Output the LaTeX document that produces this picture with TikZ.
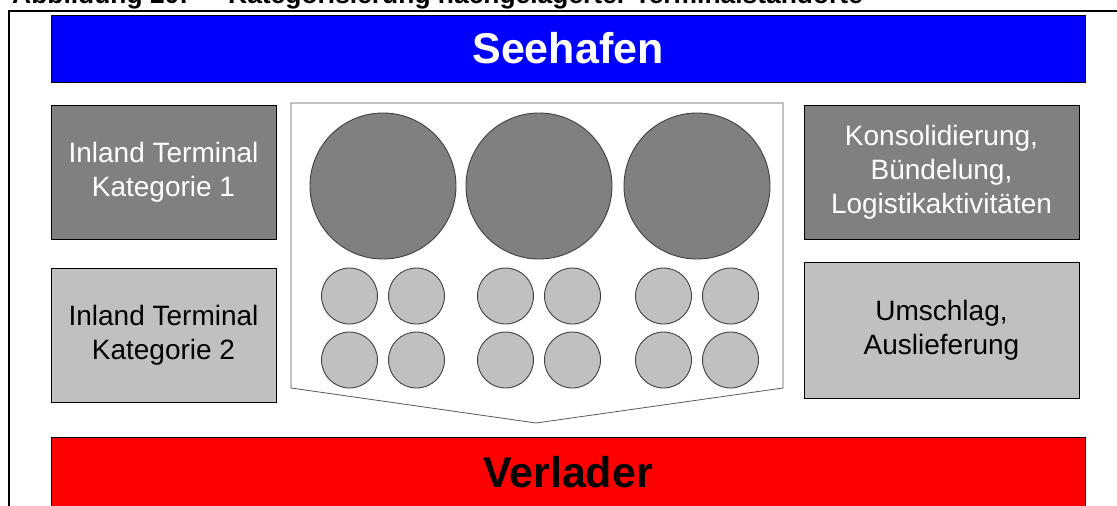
\documentclass[tikz,border=0pt]{standalone}
\usepackage{fontspec}
\setmainfont{Liberation Sans}
\usetikzlibrary{positioning}
\definecolor{dunkelgrau}{HTML}{808080}
\definecolor{hellgrau}{HTML}{C0C0C0}

\begin{document}
\begin{tikzpicture}[x=1pt, y=-1pt,
        kasten/.style={draw=black, line width=0.8pt, inner sep=0pt, outer sep=0pt, align=center,
            font=\fontsize{28}{34}\selectfont},
        dunkel/.style={kasten, fill=dunkelgrau, text=white},
        hell/.style={kasten, fill=hellgrau, text=black},
        balken/.style={draw=black, line width=0.8pt, inner sep=0pt, outer sep=0pt,
            minimum width=1034pt, font=\fontsize{43}{50}\selectfont\bfseries},
        gross/.style={draw=black!75, line width=0.9pt, fill=dunkelgrau},
        klein/.style={draw=black!75, line width=0.9pt, fill=hellgrau}]

        % ===============================
        % Rahmen und Bildgrenzen
        % ===============================
        \useasboundingbox (0,0) rectangle (1117,506);
        \clip (0,0) rectangle (1117,506);

        \draw[line width=2pt] (9,506) -- (9,11) -- (1120,11);

        % Abbildungstitel (oben abgeschnitten)
        \node[anchor=base west, inner sep=0pt, font=\fontsize{26.4}{30}\selectfont\bfseries]
            (titelnr) at (12,4) {Abbildung 20:};
        \node[anchor=base west, inner sep=0pt, font=\fontsize{26.4}{30}\selectfont\bfseries]
            (titel) at (228,4) {Kategorisierung nachgelagerter Terminalstandorte};

        % ===============================
        % Seehafen / Verlader
        % ===============================
        \node[balken, fill=blue, text=white, minimum height=67pt] (seehafen) at (568,48.5) {Seehafen};
        \node[balken, fill=red, text=black, minimum height=70pt] (verlader) at (568,472) {Verlader};

        % ===============================
        % Inland Terminals (links)
        % ===============================
        \node[dunkel, minimum width=225pt, minimum height=134pt] (kat1) at (163.5,172)
            {Inland Terminal\\Kategorie 1};
        \node[hell, minimum width=225pt, minimum height=134pt] (kat2) at (163.5,335)
            {Inland Terminal\\Kategorie 2};

        % ===============================
        % Funktionen (rechts)
        % ===============================
        \node[dunkel, minimum width=275pt, minimum height=134pt] (logistik) at (941.5,172)
            {Konsolidierung,\\Bündelung,\\Logistikaktivitäten};
        \node[hell, minimum width=275pt, minimum height=136pt] (umschlag) at (941.5,330)
            {Umschlag,\\Auslieferung};

        % ===============================
        % Pfeilform mit Standorten
        % ===============================
        \draw[draw=black!65, line width=0.8pt, fill=white]
            (291,103) -- (783,103) -- (783,388) -- (536,423) -- (291,388) -- cycle;

        % grosse Standorte
        \foreach \i/\x in {1/383, 2/539, 3/697}{
                \draw[gross] (\x,186) circle (73);
                \coordinate (gross\i) at (\x,186);
            }

        % kleine Standorte, je vier pro Gruppe
        \foreach \x in {383, 539, 697}{
                \foreach \dx in {-33.5, 33.5}{
                        \foreach \y in {296, 360}{
                                \draw[klein] (\x+\dx,\y) circle (28);
                            }
                    }
            }

    \end{tikzpicture}
\end{document}
